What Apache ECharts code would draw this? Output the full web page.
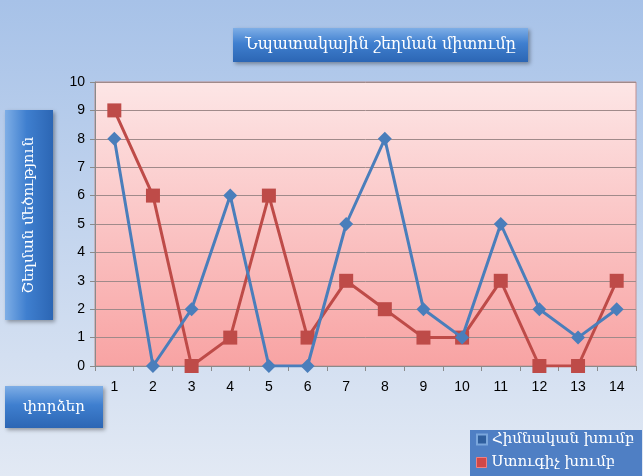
<!DOCTYPE html>
<html><head><meta charset="utf-8">
<script src="https://cdn.jsdelivr.net/npm/echarts@6/dist/echarts.min.js"></script>
<style>html,body{margin:0;padding:0;}#c{width:643px;height:476px;}</style>
</head><body><div id="c"></div>
<script>
const categories = ['1','2','3','4','5','6','7','8','9','10','11','12','13','14'];
const baseGroup = [8,0,2,6,0,0,5,8,2,1,5,2,1,2];
const controlGroup = [9,6,0,1,6,1,3,2,1,1,3,0,0,3];
const seriesNames = ['Հիմնական խումբ','Ստուգիչ խումբ'];
const titleText = 'Նպատակային շեղման միտումը';
const yName = 'Շեղման մեծություն';
const xName = 'փորձեր';

const chart = echarts.init(document.getElementById('c'));
function grad(vertical){
  return new echarts.graphic.LinearGradient(0,0,vertical?1:0,vertical?0:1,[
    {offset:0,color:'#7eaee6'},{offset:0.45,color:'#3f7fcf'},{offset:1,color:'#2c66b4'}]);
}
function box(x,y,w,h,text,rot,fs){
  return {type:'group',x:x,y:y,children:[
    {type:'rect',shape:{x:0,y:0,width:w,height:h},style:{fill:grad(rot),shadowBlur:4,shadowColor:'rgba(0,0,0,0.35)',shadowOffsetX:2,shadowOffsetY:2}},
    {type:'text',x:w/2,y:h/2,rotation:rot?Math.PI/2:0,style:{text:text,fill:'#fff',font:(fs||15)+'px "DejaVu Serif"',align:'center',verticalAlign:'middle'}}
  ]};
}
const legendText = {color:'#fff',fontFamily:'DejaVu Serif',fontSize:15};
chart.setOption({
  backgroundColor: new echarts.graphic.LinearGradient(0,0,0,1,[{offset:0,color:'#a7c2e8'},{offset:1,color:'#e2e9f4'}]),
  animation:false,
  graphic:[
    box(233,28,295,34,titleText,false,16),
    box(5,110,48,210,yName,true,15),
    box(5,386,98,42,xName,false,15),
    {type:'rect',shape:{x:470,y:430,width:172,height:46},style:{fill:'#4f7fc4'}}
  ],
  legend:[
    {left:476,top:432,itemWidth:10,itemHeight:10,padding:0,textStyle:legendText,
     data:[{name:seriesNames[0],icon:'rect',itemStyle:{color:'#2f5f9e',borderColor:'#7aa6dc',borderWidth:2}}]},
    {left:476,top:455,itemWidth:10,itemHeight:10,padding:0,textStyle:legendText,
     data:[{name:seriesNames[1],icon:'rect',itemStyle:{color:'#d04848',borderColor:'#f08080',borderWidth:1}}]}
  ],
  grid:{left:95,top:82,width:541,height:284,
    show:true,borderColor:'#c09090',borderWidth:1,
    backgroundColor:new echarts.graphic.LinearGradient(0,0,0,1,[{offset:0,color:'#fde6e6'},{offset:1,color:'#f8a3a3'}])},
  xAxis:{type:'category',data:categories,boundaryGap:true,
    axisLine:{lineStyle:{color:'#8a8a8a'}},
    axisTick:{show:true,lineStyle:{color:'#8a8a8a'}},
    axisLabel:{color:'#000',fontSize:14,fontFamily:'Liberation Sans',margin:14}},
  yAxis:{type:'value',min:0,max:10,interval:1,
    axisLine:{show:true,lineStyle:{color:'#8a8a8a'}},
    axisTick:{show:true,lineStyle:{color:'#8a8a8a'}},
    splitLine:{lineStyle:{color:'#a08a8a',width:1}},
    axisLabel:{color:'#000',fontSize:14,fontFamily:'Liberation Sans',margin:10}},
  series:[
    {name:seriesNames[0],type:'line',data:baseGroup,symbol:'diamond',symbolSize:14,
      lineStyle:{color:'#4a7ebb',width:3},itemStyle:{color:'#4a7ebb'},z:3},
    {name:seriesNames[1],type:'line',data:controlGroup,symbol:'rect',symbolSize:14,
      lineStyle:{color:'#be4b48',width:3},itemStyle:{color:'#be4b48'},z:2}
  ]
});
</script></body></html>
